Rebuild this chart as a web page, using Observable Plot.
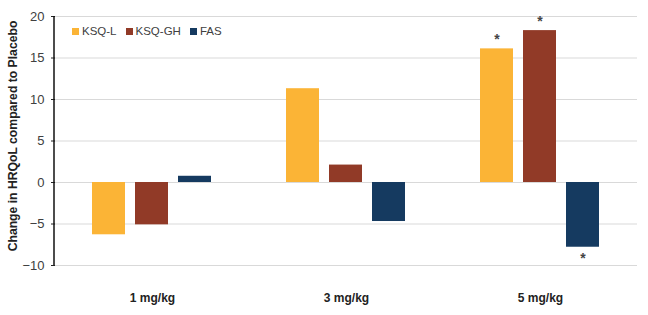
<!DOCTYPE html>
<html><head><meta charset="utf-8">
<script src="https://cdn.jsdelivr.net/npm/d3@7"></script>
<script src="https://cdn.jsdelivr.net/npm/@observablehq/plot@0.6"></script>
<style>
body{margin:0;background:#fff;}
#wrap{position:relative;width:648px;height:315px;font-family:"Liberation Sans",Arial,sans-serif;}
#wrap svg{position:absolute;left:0;top:0;z-index:0;}
#legend{position:absolute;z-index:2;left:72px;top:25px;display:flex;font-size:11.5px;color:#404040;}
#legend span.item{display:flex;align-items:center;}
#legend span.sw{display:inline-block;width:7px;height:7px;margin-right:3px;}
#ytitle{position:absolute;z-index:2;left:13px;top:136px;transform:translate(-50%,-50%) rotate(-90deg);white-space:nowrap;font-weight:bold;font-size:12.2px;color:#222;}
</style></head><body><div id="wrap"><div id="ytitle"></div><div id="legend"></div></div>
<script>
const doses = ["1 mg/kg", "3 mg/kg", "5 mg/kg"];
const seriesNames = ["KSQ-L", "KSQ-GH", "FAS"];
const seriesColors = ["#FBB436", "#913A27", "#153A60"];
const ksqL = [-6.3, 11.3, 16.1];
const ksqGH = [-5.1, 2.1, 18.3];
const fas = [0.75, -4.7, -7.8];
const sigKsqL = [false, false, true];
const sigKsqGH = [false, false, true];
const sigFas = [false, false, true];
const yTicks = [-10, -5, 0, 5, 10, 15, 20];
const yTitle = "Change in HRQoL compared to Placebo";

const values = [ksqL, ksqGH, fas];
const sigs = [sigKsqL, sigKsqGH, sigFas];
const rows = [];
doses.forEach((d, i) => seriesNames.forEach((s, j) => rows.push({dose: d, series: s, value: values[j][i], sig: sigs[j][i]})));

const legend = document.getElementById("legend");
seriesNames.forEach((s, j) => {
  const it = document.createElement("span");
  it.className = "item";
  if (j > 0) it.style.marginLeft = "9px";
  it.innerHTML = `<span class="sw" style="background:${seriesColors[j]}"></span>${s}`;
  legend.appendChild(it);
});
document.getElementById("ytitle").textContent = yTitle;

const chart = Plot.plot({
  width: 648, height: 315,
  marginLeft: 54, marginRight: 10, marginTop: 16, marginBottom: 50,
  style: {fontFamily: "'Liberation Sans', Arial, sans-serif", fontSize: "13px", color: "#404040", background: "white"},
  fx: {domain: doses, padding: 0, label: null},
  x: {domain: seriesNames, paddingInner: 0.226, paddingOuter: 0.861, axis: null},
  y: {domain: [-10, 20], label: null},
  color: {domain: seriesNames, range: seriesColors},
  marks: [
    Plot.gridY(yTicks, {stroke: "#d9d9d9", strokeOpacity: 1, strokeWidth: 1.2}),
    Plot.axisY(yTicks, {tickSize: 4, tickPadding: 7, stroke: "#222", label: null, fill: "#404040"}),
    Plot.axisFx({anchor: "bottom", tickSize: 0, tickPadding: 28, fontWeight: "bold", fontSize: 12, fill: "#222", label: null}),
    Plot.barY(rows, {fx: "dose", x: "series", y: "value", fill: "series"}),
    Plot.text(rows.filter(r => r.sig && r.value > 0), {fx: "dose", x: "series", y: "value", text: () => "*", dy: -9, fontSize: 14, fontWeight: "bold", fill: "#444"}),
    Plot.text(rows.filter(r => r.sig && r.value < 0), {fx: "dose", x: "series", y: "value", text: () => "*", dy: 11, fontSize: 14, fontWeight: "bold", fill: "#444"})
  ]
});
// left axis line drawn from the library's y scale
const ys = chart.scale("y");
d3.select(chart).append("line")
  .attr("x1", 54).attr("x2", 54)
  .attr("y1", ys.apply(yTicks[0])).attr("y2", ys.apply(yTicks[yTicks.length - 1]))
  .attr("stroke", "#111").attr("stroke-width", 1.5);
document.getElementById("wrap").prepend(chart);
</script>
</body></html>
